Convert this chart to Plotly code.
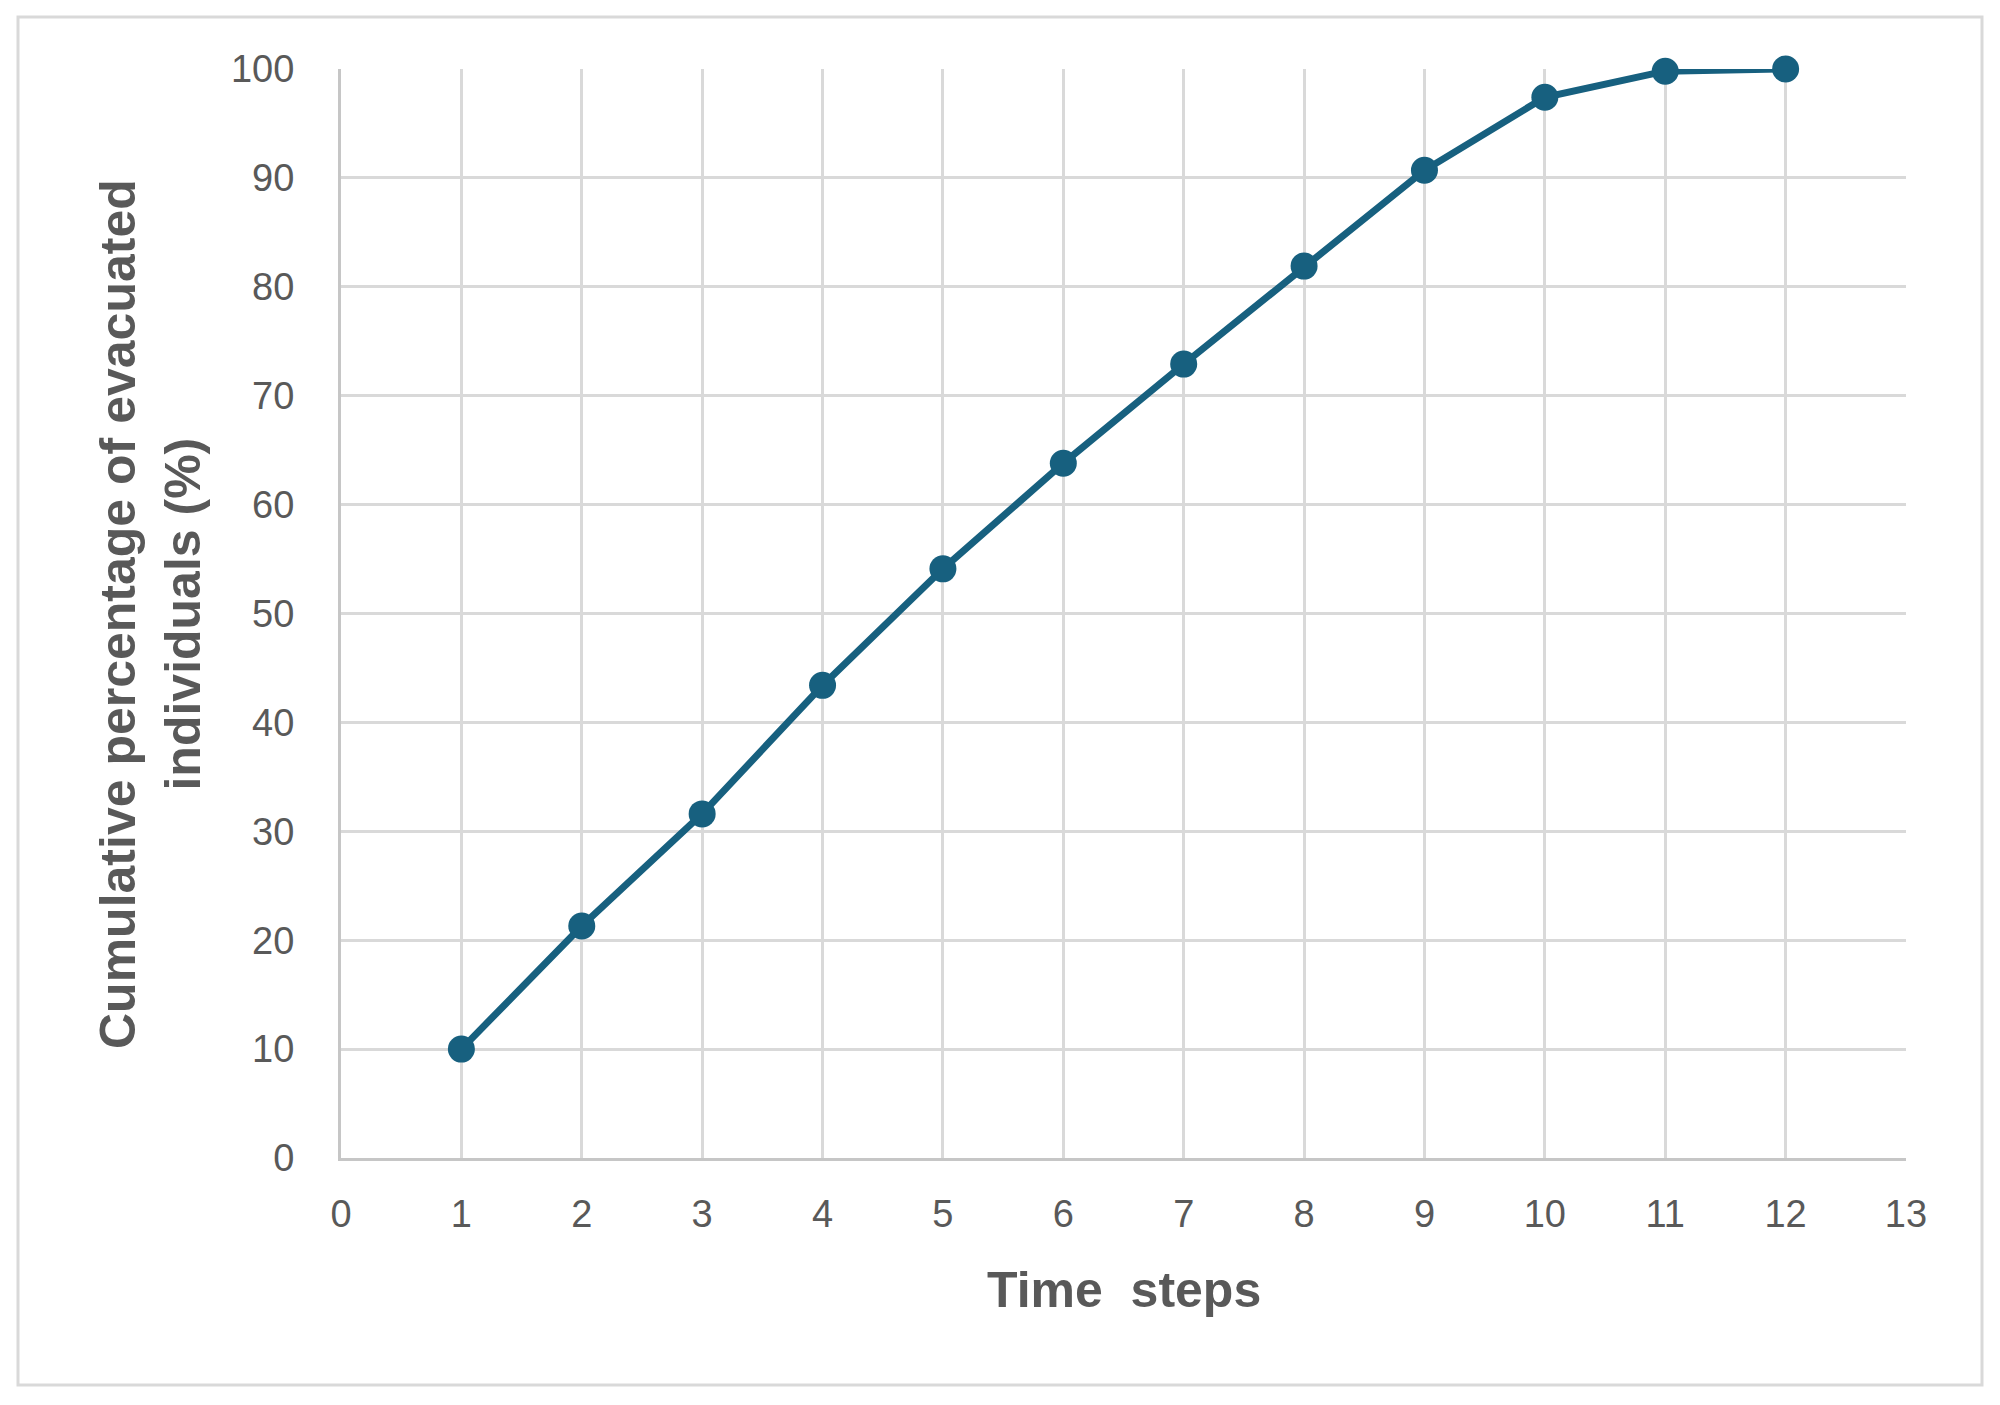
import plotly.graph_objects as go

# ---- data ----
time_steps = [1, 2, 3, 4, 5, 6, 7, 8, 9, 10, 11, 12]
cumulative_pct = [10.0, 21.3, 31.6, 43.4, 54.1, 63.8, 72.9, 81.9, 90.7, 97.4, 99.8, 100.0]
x_ticks = list(range(0, 14))
y_ticks = list(range(0, 101, 10))
x_title = "Time\u00a0\u00a0steps"
y_title = "Cumulative percentage of evacuated<br>individuals (%)"

# page has an 8px body margin; work in figure coordinates
OFF = 8
W, H = 1984, 1389
L, T = 341 - OFF, 69 - OFF
R = W - (1906 - OFF)
B = H - (1158 - OFF)
PW, PH = W - L - R, H - T - B

def px_to_paper_x(px):
    return (px - OFF - L) / PW

def px_to_paper_y(py):
    return (H - B - (py - OFF)) / PH

FONT = "Liberation Sans, Arial, sans-serif"
GRID = "#d9d9d9"
TXT = "#595959"
LINE = "#17607f"

fig = go.Figure()
fig.add_trace(go.Scatter(
    x=time_steps, y=cumulative_pct, mode="lines+markers",
    line=dict(color=LINE, width=7),
    marker=dict(color=LINE, size=27),
    showlegend=False, cliponaxis=False,
))

fig.update_layout(
    width=W, height=H,
    margin=dict(l=L, r=R, t=T, b=B, pad=0),
    paper_bgcolor="white", plot_bgcolor="white",
    font=dict(family=FONT, color=TXT, size=38),
    xaxis=dict(
        range=[0, 13], tickvals=x_ticks, ticktext=[str(v) for v in x_ticks],
        showgrid=True, gridcolor=GRID, gridwidth=2.5,
        showline=True, linecolor="#c6c6c6", linewidth=3,
        zeroline=False, ticks="", ticklabelstandoff=20,
        tickfont=dict(size=38, color=TXT, family=FONT),
    ),
    yaxis=dict(
        range=[0, 100], tickvals=y_ticks, ticktext=[str(v) for v in y_ticks],
        showgrid=True, gridcolor=GRID, gridwidth=2.5,
        showline=True, linecolor="#c6c6c6", linewidth=3,
        zeroline=False, ticks="", ticklabelstandoff=36,
        tickfont=dict(size=38, color=TXT, family=FONT),
    ),
    annotations=[
        dict(text="<b>" + x_title + "</b>", xref="paper", yref="paper",
             x=0.5, y=px_to_paper_y(1290), xanchor="center", yanchor="middle",
             showarrow=False, font=dict(size=50, color=TXT, family=FONT)),
        dict(text="<b>" + y_title.replace("<br>", "</b><br><b>") + "</b>",
             xref="paper", yref="paper",
             x=px_to_paper_x(150), y=px_to_paper_y(614), xanchor="center", yanchor="middle",
             textangle=-90, showarrow=False,
             font=dict(size=50, color=TXT, family=FONT)),
    ],
    shapes=[
        dict(type="rect", xref="paper", yref="paper",
             x0=px_to_paper_x(18), x1=px_to_paper_x(1982),
             y0=px_to_paper_y(1385), y1=px_to_paper_y(17),
             line=dict(color="#d9d9d9", width=3), layer="below"),
    ],
)

fig.write_html("out.html")
